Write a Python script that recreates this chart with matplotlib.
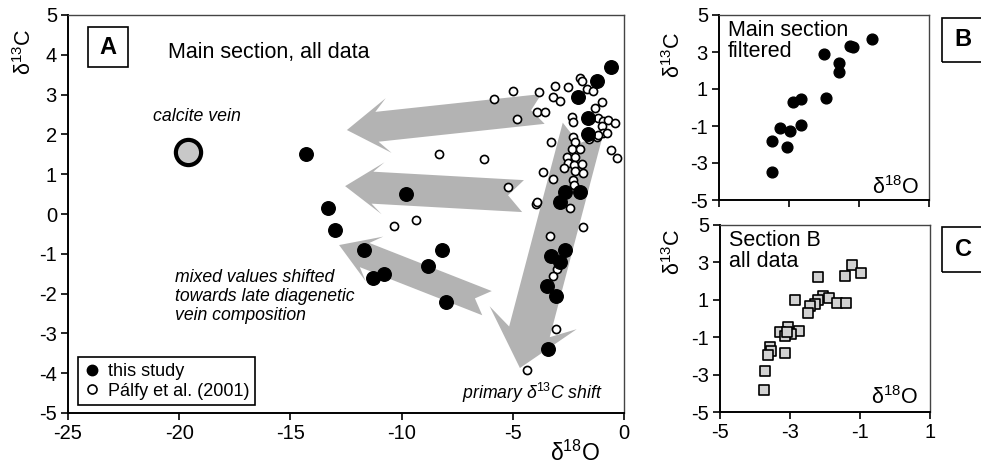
import matplotlib
matplotlib.use('Agg')
import matplotlib.pyplot as plt
import matplotlib.patches as patches
from matplotlib.lines import Line2D
import numpy as np

plt.rcParams['font.family'] = ['Liberation Sans', 'DejaVu Sans']
plt.rcParams['mathtext.fontset'] = 'custom'
plt.rcParams['mathtext.rm'] = 'Liberation Sans'
plt.rcParams['mathtext.it'] = 'Liberation Sans:italic'
plt.rcParams['axes.unicode_minus'] = False

# Panel A - this study (filled)
this_d18o = [-14.3, -13.3, -13.0, -9.8, -11.7, -11.3, -10.8, -8.2, -8.8, -8.0,
             -3.3, -2.65, -2.9, -3.45, -3.05, -3.4, -2.65, -2.0, -2.9,
             -0.6, -1.2, -2.05, -1.6, -1.6]
this_d13c = [1.5, 0.15, -0.4, 0.5, -0.9, -1.6, -1.5, -0.9, -1.3, -2.2,
             -1.05, -0.9, -1.2, -1.8, -2.05, -3.4, 0.55, 0.55, 0.3,
             3.7, 3.35, 2.95, 2.4, 2.0]

# Panel A - Pálfy et al. (2001) (open)
palfy_d18o = [-5.85, -4.99, -3.82, -3.1, -2.52, -1.98, -1.89, -1.66, -1.39, -3.19,
              -2.88, -0.99, -1.30, -3.91, -3.55, -4.81, -2.34, -2.29, -1.17, -0.94,
              -0.72, -0.40, -0.99, -0.94, -1.21, -1.57, -2.29, -3.28, -2.2, -2.34,
              -1.98, -2.56, -2.2, -2.52, -2.25, -1.89, -2.7, -2.2, -1.84, -3.64,
              -3.19, -2.29, -2.25, -0.58, -0.31, -8.32, -6.29, -5.22, -3.96, -3.91,
              -2.43, -1.84, -3.33, -10.34, -9.35, -3.02, -3.19, -3.06, -4.36,
              -0.76, -1.17]
palfy_d13c = [2.89, 3.09, 3.06, 3.22, 3.19, 3.42, 3.34, 3.14, 3.09, 2.94,
              2.84, 2.81, 2.66, 2.56, 2.56, 2.39, 2.44, 2.31, 2.41, 2.34,
              2.36, 2.29, 2.21, 2.04, 1.93, 1.88, 1.93, 1.81, 1.81, 1.63,
              1.63, 1.43, 1.43, 1.28, 1.23, 1.26, 1.15, 1.08, 1.03, 1.06,
              0.88, 0.85, 0.73, 1.61, 1.41, 1.51, 1.38, 0.68, 0.25, 0.30,
              0.15, -0.33, -0.55, -0.30, -0.15, -1.38, -1.56, -2.89, -3.92,
              2.04, 1.98]

vein_d18o = [-19.6]
vein_d13c = [1.55]

# Panel B - main section filtered
filt_d18o = [-0.64, -1.27, -1.18, -2.01, -1.58, -1.58, -1.93, -2.9, -2.67,
             -2.65, -3.25, -2.96, -3.48, -3.05, -3.48]
filt_d13c = [3.70, 3.32, 3.27, 2.89, 2.41, 1.92, 0.51, 0.30, 0.46,
             -0.95, -1.11, -1.27, -1.81, -2.14, -3.49]

# Panel C - section B all data
secb_d18o = [-1.23, -0.97, -1.43, -2.2, -2.86, -2.06, -1.89, -1.66, -1.4, -2.2,
             -2.29, -2.43, -2.49, -3.06, -3.29, -2.74, -2.97, -3.14, -3.1, -3.57,
             -3.54, -3.63, -3.14, -3.71, -3.74]
secb_d13c = [2.86, 2.43, 2.27, 2.2, 0.97, 1.2, 1.1, 0.83, 0.83, 0.99,
             0.78, 0.67, 0.30, -0.45, -0.72, -0.67, -0.83, -0.94, -0.72, -1.52,
             -1.74, -1.95, -1.84, -2.8, -3.82]

W, H = 981, 467
fig = plt.figure(figsize=(W / 100, H / 100), dpi=100)


def px_axes(l, t, r, b):
    return fig.add_axes([l / W, 1 - b / H, (r - l) / W, (b - t) / H])


def style_axes(ax):
    for s in ['left', 'bottom']:
        ax.spines[s].set_linewidth(1.4)
        ax.spines[s].set_color('black')
    for s in ['top', 'right']:
        ax.spines[s].set_linewidth(1.0)
        ax.spines[s].set_color('#444444')
    ax.tick_params(direction='out', length=5, width=1.2, labelsize=14.5, pad=3,
                   top=False, right=False)


def block_arrow(ax, tail, tip, shaft, head, head_len, notch):
    # arrow sizes given in pixels, so work in display coordinates
    p0 = ax.transData.transform(tail)
    p1 = ax.transData.transform(tip)
    d = (p1 - p0) / np.hypot(*(p1 - p0))
    n = np.array([-d[1], d[0]])
    neck = p1 - d * head_len * 0.72
    back = p1 - d * head_len
    pts = [p0 + n * shaft / 2, neck + n * shaft / 2, back + n * head / 2, p1,
           back - n * head / 2, neck - n * shaft / 2, p0 - n * shaft / 2,
           p0 + d * notch]
    pts = ax.transData.inverted().transform(np.array(pts))
    ax.add_patch(patches.Polygon(pts, closed=True, fc='#b3b3b3', ec='none', zorder=1))


# ---------- Panel A ----------
ax = px_axes(68, 15, 624, 413)
ax.set_xlim(-25, 0)
ax.set_ylim(-5, 5)
ax.set_xticks(range(-25, 1, 5))
ax.set_yticks(range(-5, 6))
style_axes(ax)

block_arrow(ax, (-3.64, 2.64), (-12.46, 2.11), 30, 55, 42, 12)
block_arrow(ax, (-4.54, 0.45), (-12.54, 0.70), 32, 52, 38, 15)
block_arrow(ax, (-6.16, -2.24), (-12.81, -0.78), 26, 48, 38, 13)
block_arrow(ax, (-1.84, 2.16), (-4.68, -3.87), 42, 90, 52, 16)

ax.scatter(palfy_d18o, palfy_d13c, s=34, facecolor='white', edgecolor='black',
           linewidth=1.2, zorder=3)
ax.scatter(this_d18o, this_d13c, s=95, color='black', zorder=4)
ax.scatter(vein_d18o, vein_d13c, s=330, facecolor='#c8c8c8', edgecolor='black',
           linewidth=3, zorder=4)

ax.text(-20.5, 4.07, 'Main section, all data', fontsize=15.5, va='center', ha='left')
ax.text(-19.2, 2.44, 'calcite vein', fontsize=12.8, style='italic', ha='center', va='center')
ax.text(-20.2, -1.38, 'mixed values shifted\ntowards late diagenetic\nvein composition',
        fontsize=12.7, style='italic', ha='left', va='top', linespacing=1.15)
ax.text(-0.95, -4.5, r'primary δ$^{13}$C shift', fontsize=12.7, style='italic',
        ha='right', va='center')

handles = [Line2D([], [], marker='o', ls='none', color='black', markersize=7.5),
           Line2D([], [], marker='o', ls='none', markerfacecolor='white',
                  markeredgecolor='black', markersize=6.5, markeredgewidth=1.2)]
leg = ax.legend(handles, ['this study', 'Pálfy et al. (2001)'], loc='lower left',
                bbox_to_anchor=(0.018, 0.02), borderaxespad=0, fontsize=13,
                fancybox=False, edgecolor='black', framealpha=1,
                handletextpad=0.35, handlelength=1.0, borderpad=0.3,
                labelspacing=0.15)
leg.get_frame().set_linewidth(1.2)

fig.text(25 / W, 1 - 52 / H, r'δ$^{13}$C', rotation=90, fontsize=15.5, ha='center', va='center')
fig.text(575 / W, 1 - 453 / H, r'δ$^{18}$O', fontsize=16.5, ha='center', va='center')

# ---------- Panel B ----------
axb = px_axes(719, 15, 929, 200)
axb.set_xlim(-5, 1)
axb.set_ylim(-5, 5)
axb.set_xticks([-5, -3, -1, 1])
axb.set_xticklabels([])
axb.set_yticks([-5, -3, -1, 1, 3, 5])
style_axes(axb)
axb.scatter(filt_d18o, filt_d13c, s=60, color='black', zorder=3)
axb.text(0.043, 0.975, 'Main section\nfiltered', transform=axb.transAxes, fontsize=15.5,
         ha='left', va='top', linespacing=1.0)
axb.text(0.84, 0.07, r'δ$^{18}$O', transform=axb.transAxes, fontsize=15.5, ha='center', va='center')
fig.text(674 / W, 1 - 55 / H, r'δ$^{13}$C', rotation=90, fontsize=15.5, ha='center', va='center')

# ---------- Panel C ----------
axc = px_axes(720, 225, 930, 412)
axc.set_xlim(-5, 1)
axc.set_ylim(-5, 5)
axc.set_xticks([-5, -3, -1, 1])
axc.set_yticks([-5, -3, -1, 1, 3, 5])
style_axes(axc)
axc.scatter(secb_d18o, secb_d13c, s=50, marker='s', facecolor='#d2d2d2',
            edgecolor='black', linewidth=1.2, zorder=3)
axc.text(0.043, 0.975, 'Section B\nall data', transform=axc.transAxes, fontsize=15.5,
         ha='left', va='top', linespacing=1.0)
axc.text(0.83, 0.075, r'δ$^{18}$O', transform=axc.transAxes, fontsize=15.5, ha='center', va='center')
fig.text(674 / W, 1 - 252 / H, r'δ$^{13}$C', rotation=90, fontsize=15.5, ha='center', va='center')

# panel letter boxes (pixel coordinates)
for (l, t, r, b, letter) in [(88, 27, 128, 67, 'A'), (942, 18, 990, 62, 'B'),
                             (942, 227, 990, 272, 'C')]:
    fig.patches.append(patches.Rectangle((l / W, 1 - b / H), (r - l) / W, (b - t) / H,
                                         transform=fig.transFigure, fill=False,
                                         ec='black', lw=1.2))
    cx = (l + r) / 2 if letter == 'A' else l + 21
    fig.text(cx / W, 1 - (t + b) / 2 / H, letter, fontsize=17, fontweight='bold',
             ha='center', va='center')

fig.savefig('out.png', dpi=100)
